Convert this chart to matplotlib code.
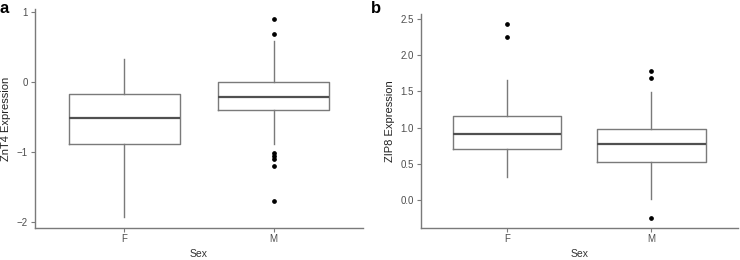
import matplotlib
matplotlib.use("Agg")
import matplotlib.pyplot as plt

plt.rcParams['font.family'] = ['Liberation Sans', 'DejaVu Sans']

categories = ["F", "M"]

# Panel a: ZnT4 expression (whislo, q1, median, q3, whishi)
znt4_whislo = [-1.94, -0.89]
znt4_q1 = [-0.89, -0.40]
znt4_med = [-0.517, -0.215]
znt4_q3 = [-0.177, 0.0]
znt4_whishi = [0.325, 0.584]
znt4_fliers = [[], [0.90, 0.684, -1.01, -1.062, -1.10, -1.20, -1.708]]

# Panel b: ZIP8 expression
zip8_whislo = [0.322, 0.014]
zip8_q1 = [0.703, 0.533]
zip8_med = [0.919, 0.781]
zip8_q3 = [1.167, 0.988]
zip8_whishi = [1.654, 1.494]
zip8_fliers = [[2.426, 2.252], [1.783, 1.687, -0.239]]

yticks_a = [-2, -1, 0, 1]
yticks_b = [0.0, 0.5, 1.0, 1.5, 2.0, 2.5]

fig = plt.figure(figsize=(7.4, 2.6), dpi=100)
W, H = 740, 260

def make_axes(l, r, t, b):
    return fig.add_axes([l / W, (H - b) / H, (r - l) / W, (b - t) / H])

ax_a = make_axes(35, 363, 9.4, 227.5)
ax_b = make_axes(420.7, 738, 14.5, 227.5)

box_col = "#7a7a7a"
med_col = "#505050"
axis_col = "#7a7a7a"
tick_col = "#4d4d4d"

def draw(ax, whislo, q1, med, q3, whishi, fliers, ylabel, yticks, ylim, fmt):
    stats = []
    for i in range(len(categories)):
        stats.append(dict(whislo=whislo[i], q1=q1[i], med=med[i], q3=q3[i],
                          whishi=whishi[i], fliers=fliers[i], label=categories[i]))
    ax.bxp(stats, positions=[1, 2], widths=0.75, showcaps=False,
           boxprops=dict(color=box_col, linewidth=1.0),
           whiskerprops=dict(color=box_col, linewidth=1.0),
           medianprops=dict(color=med_col, linewidth=1.6),
           flierprops=dict(marker='o', markerfacecolor='black', markeredgecolor='black',
                           markersize=2.4, linestyle='none'))
    ax.set_xlim(0.4, 2.6)
    ax.set_ylim(*ylim)
    ax.set_xticks([1, 2])
    ax.set_xticklabels(categories)
    ax.set_yticks(yticks)
    ax.set_yticklabels([fmt.format(v) for v in yticks])
    for s in ["top", "right"]:
        ax.spines[s].set_visible(False)
    for s in ["left", "bottom"]:
        ax.spines[s].set_color(axis_col)
        ax.spines[s].set_linewidth(1.0)
    ax.tick_params(axis='both', colors=axis_col, labelcolor=tick_col, labelsize=7,
                   length=3, width=0.8, pad=2)
    ax.set_xlabel("Sex", fontsize=7.5, color="#333333", labelpad=3)
    ax.set_ylabel(ylabel, fontsize=8, color="#222222", labelpad=4)
    ax.set_facecolor("white")

draw(ax_a, znt4_whislo, znt4_q1, znt4_med, znt4_q3, znt4_whishi, znt4_fliers,
     "ZnT4 Expression", yticks_a, (-2.085, 1.042), "{:g}")
draw(ax_b, zip8_whislo, zip8_q1, zip8_med, zip8_q3, zip8_whishi, zip8_fliers,
     "ZIP8 Expression", yticks_b, (-0.372, 2.559), "{:.1f}")

ax_a.set_yticklabels(["\u22122", "\u22121", "0", "1"])

fig.text(0 / W, 1 - 1 / H, "a", fontsize=12, fontweight="bold", va="top", ha="left")
fig.text(371 / W, 1 - 1 / H, "b", fontsize=12, fontweight="bold", va="top", ha="left")

fig.savefig("out.png", dpi=100)
